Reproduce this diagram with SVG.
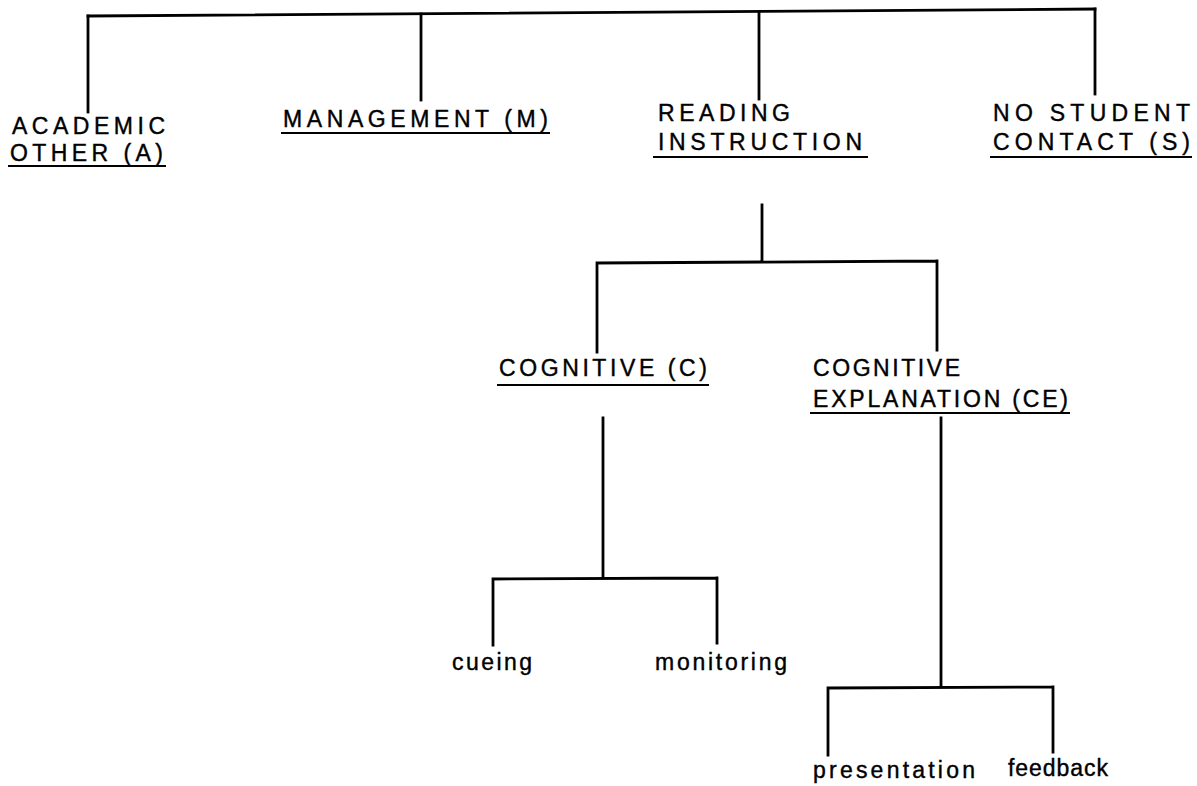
<svg xmlns="http://www.w3.org/2000/svg" width="1197" height="786" viewBox="0 0 1197 786">
<style>
.ln{stroke:#000;stroke-width:2.8;fill:none;stroke-linecap:square}
.ul{stroke:#000;stroke-width:2.2;fill:none}
.t{font-family:"Liberation Sans",Arial,sans-serif;font-size:23px;fill:#000;stroke:#000;stroke-width:0.4}
</style>
<rect width="1197" height="786" fill="#fff"/>
<g id="connectors">
<path class="ln" d="M88 16 L1095 9"/>
<path class="ln" d="M88 16 V112"/>
<path class="ln" d="M421 14 V100"/>
<path class="ln" d="M759 12 V99"/>
<path class="ln" d="M1095 9 V94"/>
<path class="ln" d="M762 205 V262 M597 263 L937 261 M597 263 V352 M937 261 V350"/>
<path class="ln" d="M603 418 V578 M493 579 L717 578 M493 579 V645 M717 578 V643"/>
<path class="ln" d="M941 418 V687 M828 688 L1053 687 M828 688 V755 M1053 687 V752"/>
</g>
<g id="node-academic">
<text class="t" x="12" y="134" textLength="153" lengthAdjust="spacing">ACADEMIC</text>
<text class="t" x="10" y="161" textLength="153" lengthAdjust="spacing">OTHER (A)</text>
<path class="ul" d="M8 166 H166"/>
</g>
<g id="node-management">
<text class="t" x="283" y="127" textLength="265" lengthAdjust="spacing">MANAGEMENT (M)</text>
<path class="ul" d="M281 133 H550"/>
</g>
<g id="node-reading">
<text class="t" x="658" y="121" textLength="132" lengthAdjust="spacing">READING</text>
<text class="t" x="658" y="150" textLength="204" lengthAdjust="spacing">INSTRUCTION</text>
<path class="ul" d="M653 157 H868"/>
</g>
<g id="node-nostudent">
<text class="t" x="993" y="121" textLength="197" lengthAdjust="spacing">NO STUDENT</text>
<text class="t" x="993" y="150" textLength="197" lengthAdjust="spacing">CONTACT (S)</text>
<path class="ul" d="M990 157 H1192"/>
</g>
<g id="node-cognitive">
<text class="t" x="499" y="376" textLength="208" lengthAdjust="spacing">COGNITIVE (C)</text>
<path class="ul" d="M497 385 H709"/>
</g>
<g id="node-cogexp">
<text class="t" x="813" y="376" textLength="147" lengthAdjust="spacing">COGNITIVE</text>
<text class="t" x="813" y="407" textLength="255" lengthAdjust="spacing">EXPLANATION (CE)</text>
<path class="ul" d="M810 413 H1070"/>
</g>
<g id="node-cueing">
<text class="t" x="452" y="670" textLength="80" lengthAdjust="spacing">cueing</text>
</g>
<g id="node-monitoring">
<text class="t" x="655" y="670" textLength="132" lengthAdjust="spacing">monitoring</text>
</g>
<g id="node-presentation">
<text class="t" x="813" y="778" textLength="162" lengthAdjust="spacing">presentation</text>
</g>
<g id="node-feedback">
<text class="t" x="1008" y="776" textLength="100" lengthAdjust="spacing">feedback</text>
</g>
</svg>
